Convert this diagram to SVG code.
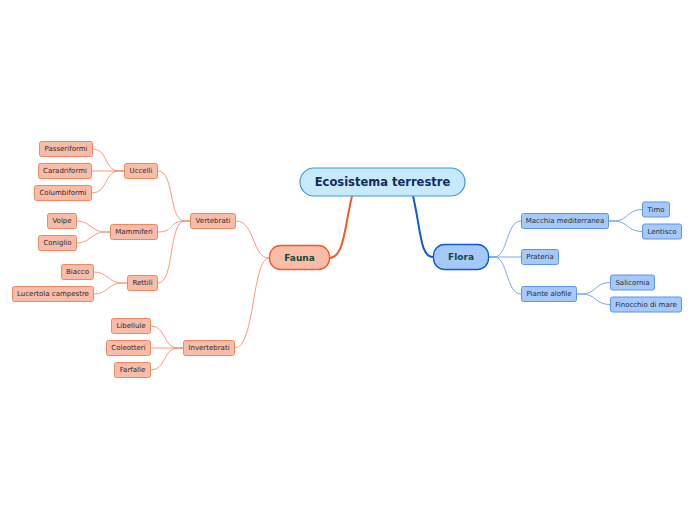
<svg xmlns="http://www.w3.org/2000/svg" width="696" height="520" viewBox="0 0 696 520">
<style>
text{font-family:"DejaVu Sans",Verdana,sans-serif;text-anchor:middle;dominant-baseline:central}
.o rect{fill:#f9bca8;stroke:#f2865f;stroke-width:1}
.b rect{fill:#a6c9fb;stroke:#5a94ec;stroke-width:1}
.o text,.b text{font-size:7px;fill:#2b2b2b}
.oc{fill:none;stroke:#f7906e;stroke-width:0.9}
.bc{fill:none;stroke:#6a9de6;stroke-width:0.9}
.main{font-weight:bold;fill:#0f4a3a}
</style>
<rect width="696" height="520" fill="#fff"/>
<g id="connectors">
<path d="M352,196 C344,230 344,258 329,258" fill="none" stroke="#f45a26" stroke-width="2"/>
<path d="M413,196 C421,230 420,257 433,257" fill="none" stroke="#0b5bd6" stroke-width="2"/>
<path class="oc" d="M269,258 C252,258 255,221 236,221"/>
<path class="oc" d="M269,258 C252,258 255,348 235,348"/>
<path class="oc" d="M190,221 L185,221 C168,221 175,171 158,171"/>
<path class="oc" d="M190,221 L185,221 C168,221 175,232 158,232"/>
<path class="oc" d="M190,221 L185,221 C168,221 175,283 158,283"/>
<path class="oc" d="M124,171 L119,171 C104,171 108,149 93,149"/>
<path class="oc" d="M124,171 L92,171"/>
<path class="oc" d="M124,171 L119,171 C104,171 108,193 92,193"/>
<path class="oc" d="M110,232 L105,232 C92,232 90,221 77,221"/>
<path class="oc" d="M110,232 L105,232 C92,232 90,243 77,243"/>
<path class="oc" d="M127,283 L122,283 C108,283 108,272 94,272"/>
<path class="oc" d="M127,283 L122,283 C108,283 108,294 94,294"/>
<path class="oc" d="M183,348 L178,348 C163,348 166,326 151,326"/>
<path class="oc" d="M183,348 L151,348"/>
<path class="oc" d="M183,348 L178,348 C163,348 166,370 151,370"/>
<path class="bc" d="M489,257 L494,257 C508,257 506,221 521,221"/>
<path class="bc" d="M489,257 L521,257"/>
<path class="bc" d="M489,257 L494,257 C508,257 506,294 521,294"/>
<path class="bc" d="M609,221 L614,221 C628,221 627,209.5 642,209.5"/>
<path class="bc" d="M609,221 L614,221 C628,221 627,231.5 642,231.5"/>
<path class="bc" d="M577,294 L582,294 C596,294 595,282.5 610,282.5"/>
<path class="bc" d="M577,294 L582,294 C596,294 595,304.5 610,304.5"/>
</g>
<g id="central"><rect x="300" y="168" width="165" height="28" rx="14" fill="#c6eafc" stroke="#3d9ad6" stroke-width="1.2"/><text x="382.5" y="182" font-size="11.5" font-weight="bold" fill="#132a5c">Ecosistema terrestre</text></g>
<g id="fauna"><rect x="269.5" y="245.5" width="60" height="24" rx="11" fill="#f9bca8" stroke="#f45a26" stroke-width="1.3"/><text class="main" x="299.5" y="257.5" font-size="9">Fauna</text></g>
<g id="flora"><rect x="433.5" y="244.5" width="55" height="25" rx="11" fill="#a6c9fb" stroke="#0b5bd6" stroke-width="1.3"/><text class="main" x="461" y="257" font-size="9">Flora</text></g>
<g class="o" id="vertebrati"><rect x="190.5" y="213.5" width="45" height="15" rx="2"/><text x="213" y="221">Vertebrati</text></g>
<g class="o" id="uccelli"><rect x="124.5" y="163.5" width="33" height="15" rx="2"/><text x="141" y="171">Uccelli</text></g>
<g class="o" id="passeriformi"><rect x="39.5" y="141.5" width="53" height="15" rx="2"/><text x="66" y="149">Passeriformi</text></g>
<g class="o" id="caradriformi"><rect x="38.5" y="163.5" width="53" height="15" rx="2"/><text x="65" y="171">Caradriformi</text></g>
<g class="o" id="columbiformi"><rect x="34.5" y="185.5" width="57" height="15" rx="2"/><text x="63" y="193">Columbiformi</text></g>
<g class="o" id="mammiferi"><rect x="110.5" y="224.5" width="47" height="15" rx="2"/><text x="134" y="232">Mammiferi</text></g>
<g class="o" id="volpe"><rect x="47.5" y="213.5" width="29" height="15" rx="2"/><text x="62" y="221">Volpe</text></g>
<g class="o" id="coniglio"><rect x="38.5" y="235.5" width="38" height="15" rx="2"/><text x="57.5" y="243">Coniglio</text></g>
<g class="o" id="rettili"><rect x="127.5" y="275.5" width="30" height="15" rx="2"/><text x="142.5" y="283">Rettili</text></g>
<g class="o" id="biacco"><rect x="61.5" y="264.5" width="32" height="15" rx="2"/><text x="77.5" y="272">Biacco</text></g>
<g class="o" id="lucertola"><rect x="12.5" y="286.5" width="81" height="15" rx="2"/><text x="53" y="294">Lucertola campestre</text></g>
<g class="o" id="invertebrati"><rect x="183.5" y="340.5" width="51" height="15" rx="2"/><text x="209" y="348">Invertebrati</text></g>
<g class="o" id="libellule"><rect x="111.5" y="318.5" width="39" height="15" rx="2"/><text x="131" y="326">Libellule</text></g>
<g class="o" id="coleotteri"><rect x="106.5" y="340.5" width="44" height="15" rx="2"/><text x="128.5" y="348">Coleotteri</text></g>
<g class="o" id="farfalle"><rect x="114.5" y="362.5" width="36" height="15" rx="2"/><text x="132.5" y="370">Farfalle</text></g>
<g class="b" id="macchia"><rect x="521.5" y="213.5" width="87" height="15" rx="2"/><text x="565" y="221">Macchia mediterranea</text></g>
<g class="b" id="timo"><rect x="642.5" y="202" width="27" height="15" rx="2"/><text x="656" y="209.5">Timo</text></g>
<g class="b" id="lentisco"><rect x="642.5" y="224" width="39" height="15" rx="2"/><text x="662" y="231.5">Lentisco</text></g>
<g class="b" id="prateria"><rect x="521.5" y="249.5" width="37" height="15" rx="2"/><text x="540" y="257">Prateria</text></g>
<g class="b" id="piante"><rect x="521.5" y="286.5" width="55" height="15" rx="2"/><text x="549" y="294">Piante alofile</text></g>
<g class="b" id="salicornia"><rect x="610.5" y="275" width="44" height="15" rx="2"/><text x="632.5" y="282.5">Salicornia</text></g>
<g class="b" id="finocchio"><rect x="610.5" y="297" width="71" height="15" rx="2"/><text x="646" y="304.5">Finocchio di mare</text></g>
</svg>
